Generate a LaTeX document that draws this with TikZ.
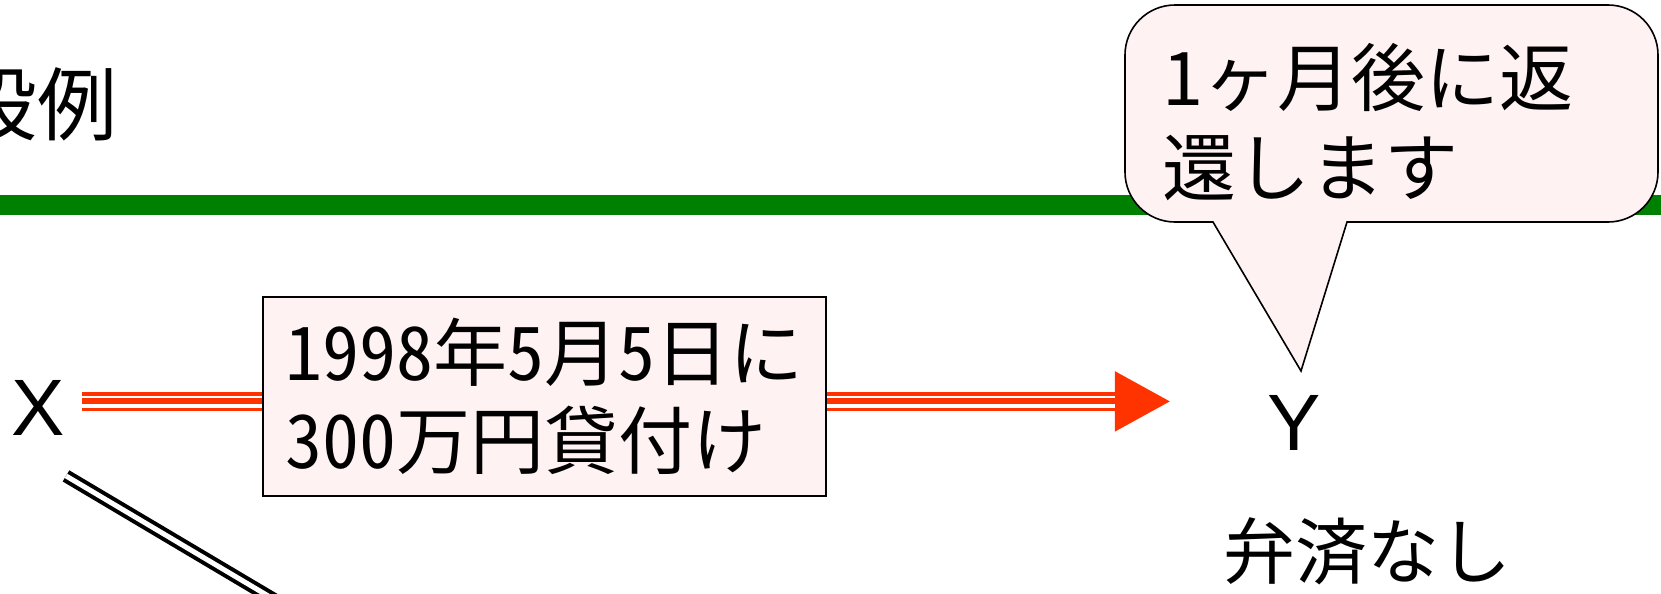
\documentclass[tikz,border=0pt]{standalone}
\usepackage{fontspec}
\setmainfont{Noto Sans CJK JP}
\newfontfamily\latinfont{Liberation Sans}
\newfontfamily\digitfont[CharacterWidth=Half]{Noto Sans CJK JP}
\usetikzlibrary{arrows.meta}

\definecolor{barGreen}{HTML}{008000}
\definecolor{loanRed}{HTML}{FF3300}
\definecolor{notePink}{HTML}{FFF2F2}

\tikzset{
  party/.style={inner sep=0pt, font=\latinfont\fontsize{40}{40}\selectfont},
  loanline/.style={draw=loanRed, line width=9.6pt,
    -{Triangle[length=28pt,width=28pt]},
    shorten <=8.5pt, shorten >=48pt,
    postaction={draw=white, arrows=-, line width=1.3pt, shorten >=76pt,
      transform canvas={yshift=2.15pt}},
    postaction={draw=white, arrows=-, line width=1.7pt, shorten >=76pt,
      transform canvas={yshift=-2.35pt}}},
  tie/.style={draw=black, line width=2pt, double=white, double distance=2.5pt},
  note/.style={draw=black, fill=notePink, line width=0.8pt}
}

\begin{document}
\begin{tikzpicture}[x=0.5pt, y=-0.5pt]
  \useasboundingbox (0,0) rectangle (1661,594);
  \clip (0,0) rectangle (1661,594);
  % title and rule
  \node[anchor=east, inner sep=0pt, font=\fontsize{40}{40}\selectfont]
    (title) at (118,104) {設例};
  \fill[barGreen] (0,195) rectangle (1661,215);
  % parties
  \node[party] (X) at (38,408) {X};
  \node[party] (Y) at (1294,423) {Y};
  \node[inner sep=0pt, font=\fontsize{36}{36}\selectfont]
    (norepay) at (1367,551) {弁済なし};
  % connectors
  \coordinate (offpage) at (366,654);
  \draw[tie] ([xshift=14pt, yshift=-20pt]X.south) -- (offpage);
  \draw[loanline] ([yshift=3.3pt]X.east) -- ([yshift=10.8pt]Y.west);
  \node[note, minimum width=281.5pt, minimum height=99.5pt, align=left,
    font=\digitfont\fontsize{37}{44}\selectfont]
    (loan) at (544.5,396.5) {1998年5月5日に\\300万円貸付け};
  % speech bubble of Y
  \coordinate (bubbletip) at (1301,371);
  \filldraw[note] (bubbletip) -- (1213,222) [rounded corners=25pt] -- (1125,222)
    -- (1125,5) -- (1658,5) -- (1658,222) [sharp corners] -- (1347,222) -- cycle;
  \node[anchor=west, align=left, inner sep=0pt, font=\fontsize{37}{45}\selectfont]
    (promise) at (1162,122) {1ヶ月後に返\\還します};
\end{tikzpicture}
\end{document}
